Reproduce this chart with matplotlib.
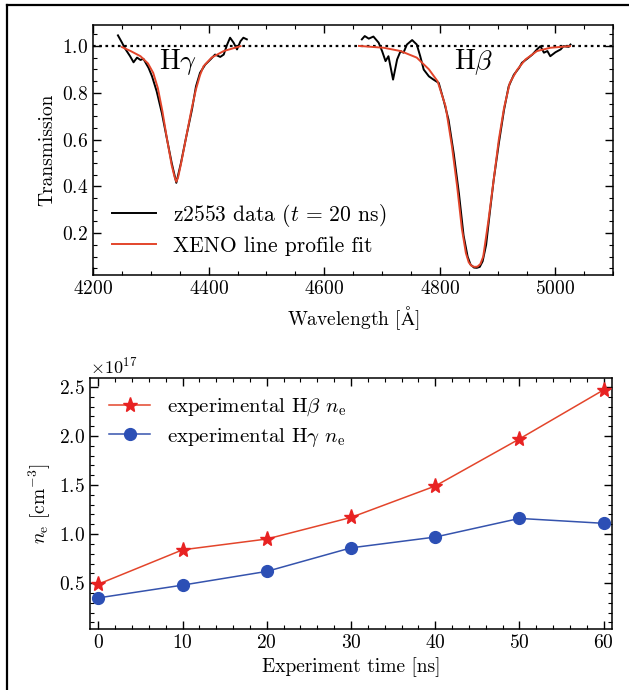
import numpy as np
import matplotlib
matplotlib.use("Agg")
import matplotlib.pyplot as plt
from matplotlib.lines import Line2D
from matplotlib.ticker import MultipleLocator

plt.rcParams["font.family"] = "serif"
plt.rcParams["font.serif"] = ["cmr10"]
plt.rcParams["mathtext.fontset"] = "cm"
plt.rcParams["axes.formatter.use_mathtext"] = True
plt.rcParams["axes.unicode_minus"] = False

# --- spectrum: measured transmission (black) and line-profile fit (red) ---
hg_wl = [4243, 4250, 4255, 4264, 4270, 4276, 4282, 4287, 4296, 4302, 4310, 4319,
         4328, 4336, 4344, 4352, 4361, 4371, 4378, 4385, 4394, 4403, 4411, 4420,
         4426, 4432, 4437, 4443, 4449, 4455, 4460, 4466]
hg_tr = [1.045, 1.014, 0.990, 0.956, 0.930, 0.950, 0.940, 0.945, 0.906, 0.870, 0.806, 0.713,
         0.600, 0.500, 0.415, 0.500, 0.610, 0.727, 0.827, 0.885, 0.920, 0.942, 0.963, 0.953,
         0.963, 1.006, 1.035, 1.014, 0.985, 1.020, 1.035, 1.028]

hg_fit_wl = [4250, 4265, 4282, 4295, 4304, 4312, 4320, 4328, 4336, 4341, 4344, 4347, 4352, 4361,
             4370, 4378, 4385, 4391, 4405, 4426, 4455]
hg_fit_tr = [0.995, 0.978, 0.956, 0.925, 0.885, 0.820, 0.720, 0.600, 0.490, 0.440, 0.420, 0.438,
             0.495, 0.610, 0.725, 0.815, 0.875, 0.913, 0.950, 0.978, 0.999]

hb_wl = [4665, 4670, 4677, 4685, 4694, 4700, 4706, 4711, 4719, 4726, 4732, 4737,
         4743, 4752, 4760, 4766, 4772, 4781, 4789, 4798, 4807, 4815, 4824, 4833,
         4841, 4848, 4853, 4859, 4864, 4869, 4874, 4880, 4886, 4893, 4902, 4911, 4919, 4928, 4937,
         4942, 4951, 4960, 4968, 4974, 4980, 4986, 4991, 5000, 5009, 5014, 5023, 5026]
hb_tr = [1.028, 1.042, 1.031, 1.040, 1.014, 0.978, 0.935, 0.956, 0.856, 0.942, 0.978, 0.971,
         1.006, 1.025, 1.006, 0.956, 0.899, 0.870, 0.856, 0.842, 0.763, 0.684, 0.540, 0.369,
         0.190, 0.100, 0.066, 0.053, 0.052, 0.056, 0.080, 0.150, 0.280, 0.426, 0.584, 0.727, 0.827,
         0.877, 0.906, 0.928, 0.945, 0.963, 0.985, 0.999, 0.971, 0.978, 0.956, 0.973, 0.985, 0.999,
         0.996, 1.006]

hb_fit_wl = [4660, 4703, 4732, 4760, 4781, 4796, 4810, 4821, 4830, 4838, 4845, 4850, 4855,
             4860, 4865, 4870, 4875, 4884, 4893, 4902, 4911, 4921, 4934, 4948, 4968, 4991, 5025]
hb_fit_tr = [1.000, 0.992, 0.978, 0.950, 0.900, 0.849, 0.741, 0.569, 0.397, 0.220, 0.115, 0.075,
             0.060, 0.056, 0.057, 0.068, 0.100, 0.254, 0.426, 0.600, 0.735, 0.842, 0.899, 0.942,
             0.978, 0.992, 0.999]

# --- electron density vs experiment time (units of 1e17 cm^-3) ---
t_ns = [0, 10, 20, 30, 40, 50, 60]
ne_hbeta = [0.49, 0.84, 0.95, 1.17, 1.49, 1.97, 2.47]
ne_hgamma = [0.35, 0.48, 0.62, 0.86, 0.97, 1.16, 1.11]
ne_hgamma_err = [0.01, 0.01, 0.01, 0.01, 0.01, 0.05, 0.02]

red = "#e3452b"
blue = "#3553ad"

fig = plt.figure(figsize=(6.29, 6.90), dpi=100)

# top panel: transmission spectra
ax1 = fig.add_axes([0.148, 0.601, 0.827, 0.363])
ax1.axhline(1.0, color="black", ls=(0, (1.2, 1.6)), lw=1.6, zorder=1)
ax1.plot(hg_wl, hg_tr, color="black", lw=1.4, label=r"z2553 data ($t$ = 20 ns)")
ax1.plot(hb_wl, hb_tr, color="black", lw=1.4)
ax1.plot(hg_fit_wl, hg_fit_tr, color=red, lw=1.4, label="XENO line profile fit")
ax1.plot(hb_fit_wl, hb_fit_tr, color=red, lw=1.4)
ax1.text(4347, 0.93, r"H$\gamma$", fontsize=20, ha="center", va="center")
ax1.text(4858, 0.93, r"H$\beta$", fontsize=20, ha="center", va="center")
ax1.set_xlim(4200, 5100)
ax1.set_ylim(0.02, 1.09)
ax1.xaxis.set_major_locator(MultipleLocator(200))
ax1.xaxis.set_minor_locator(MultipleLocator(50))
ax1.yaxis.set_minor_locator(MultipleLocator(0.05))
ax1.set_yticks([0.2, 0.4, 0.6, 0.8, 1.0])
ax1.set_xlabel(r"Wavelength [$\mathrm{\AA}$]", fontsize=14)
ax1.set_ylabel("Transmission", fontsize=14)
ax1.legend(loc="lower left", bbox_to_anchor=(0.0, 0.0), frameon=False, fontsize=15.5,
           handlelength=2.0, labelspacing=0.35)

# bottom panel: electron density
ax2 = fig.add_axes([0.143, 0.088, 0.830, 0.364])
ax2.plot(t_ns, np.array(ne_hbeta) * 1e17, color=red, lw=1.1, marker="*", ms=11,
         mfc="#e82222", mec="#e82222", label=r"experimental H$\beta$ $n_\mathrm{e}$", zorder=3)
ax2.plot(t_ns, np.array(ne_hgamma) * 1e17, color=blue, lw=1.1, marker="o", ms=8.5,
         mfc="#2c4fb5", mec="#2c4fb5", label=r"experimental H$\gamma$ $n_\mathrm{e}$", zorder=3)
ax2.errorbar(t_ns, np.array(ne_hgamma) * 1e17, yerr=np.array(ne_hgamma_err) * 1e17,
             fmt="none", ecolor="#2c4fb5", elinewidth=1.5, zorder=3)
ax2.set_xlim(-1, 61)
ax2.set_ylim(0.03e17, 2.59e17)
ax2.xaxis.set_major_locator(MultipleLocator(10))
ax2.xaxis.set_minor_locator(MultipleLocator(2))
ax2.yaxis.set_major_locator(MultipleLocator(0.5e17))
ax2.yaxis.set_minor_locator(MultipleLocator(0.1e17))
ax2.set_xlabel("Experiment time [ns]", fontsize=14)
ax2.set_ylabel(r"$n_\mathrm{e}$ [cm$^{-3}$]", fontsize=14)
ax2.yaxis.get_offset_text().set_fontsize(13)
ax2.legend(loc="upper left", frameon=False, fontsize=15, handlelength=2.0,
           labelspacing=0.35)

for ax in (ax1, ax2):
    ax.tick_params(which="both", direction="in", top=True, right=True, labelsize=14)
    ax.tick_params(which="major", length=6, width=1)
    ax.tick_params(which="minor", length=3, width=0.8)
    for s in ax.spines.values():
        s.set_linewidth(1.1)

# page frame on the left and top edges
fig.add_artist(Line2D([0.011, 0.011], [0.0, 0.993], color="black", lw=1.6,
                      transform=fig.transFigure))
fig.add_artist(Line2D([0.011, 1.0], [0.993, 0.993], color="black", lw=1.6,
                      transform=fig.transFigure))

fig.savefig("out.png", dpi=100)
